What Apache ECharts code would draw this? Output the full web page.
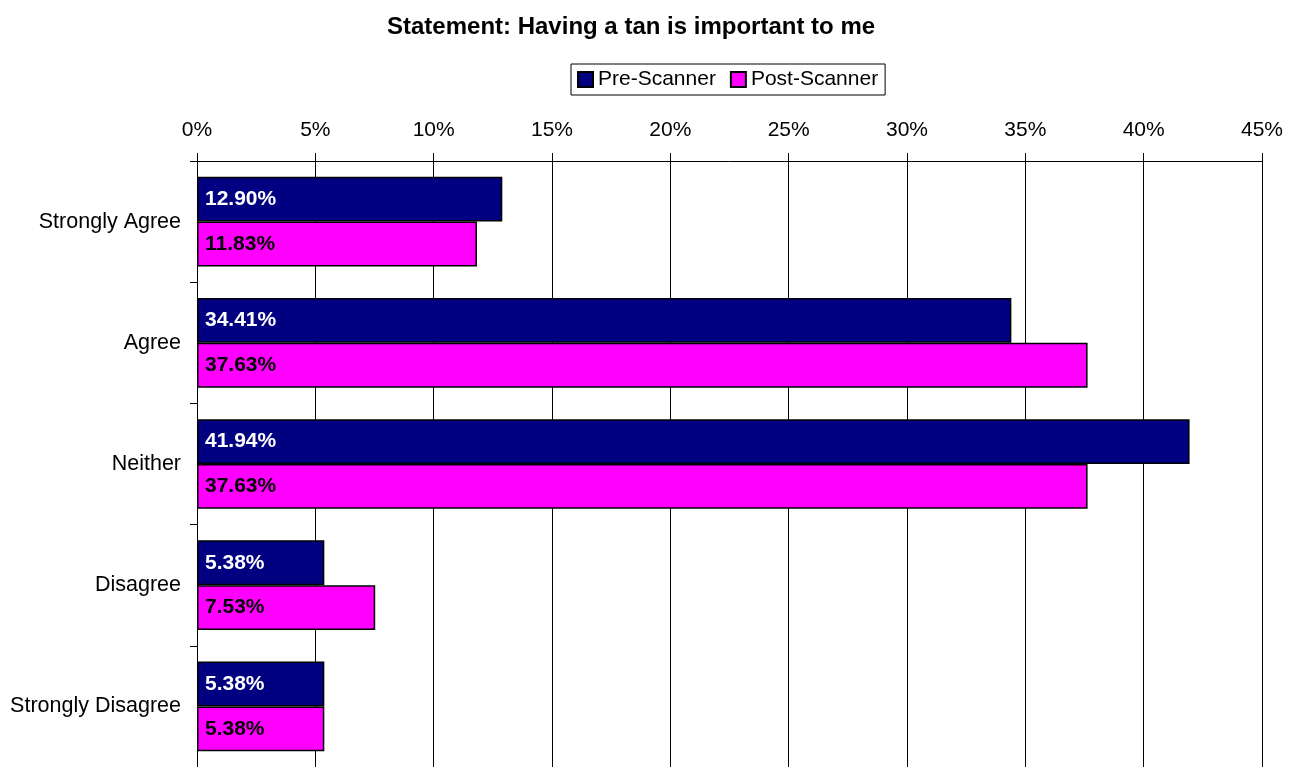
<!DOCTYPE html>
<html>
<head>
<meta charset="utf-8">
<script src="https://cdn.jsdelivr.net/npm/echarts@6/dist/echarts.min.js"></script>
<style>html,body{margin:0;padding:0;background:#fff}#c{width:1297px;height:767px}</style>
</head>
<body>
<div id="c"></div>
<script>
var categories = ['Strongly Agree', 'Agree', 'Neither', 'Disagree', 'Strongly Disagree'];
var preScanner = [12.90, 34.41, 41.94, 5.38, 5.38];
var postScanner = [11.83, 37.63, 37.63, 7.53, 5.38];
var seriesNames = ['Pre-Scanner', 'Post-Scanner'];
var titleText = 'Statement: Having a tan is important to me';

var chart = echarts.init(document.getElementById('c'), null, {renderer: 'canvas'});
var font = 'Arial, "Liberation Sans", sans-serif';
function lbl(color) {
  return {
    show: true, position: 'insideLeft', distance: 8,
    color: color, fontWeight: 'bold', fontSize: 21, fontFamily: font,
    formatter: function (p) { return p.value.toFixed(2) + '%'; }
  };
}
chart.setOption({
  animation: false,
  title: {
    text: titleText, left: 387, top: 15, padding: 0,
    textStyle: {fontSize: 24, fontWeight: 'bold', color: '#000', fontFamily: font}
  },
  legend: {
    data: seriesNames, top: 64, left: 571,
    borderColor: '#000', borderWidth: 1, padding: [5, 7, 5, 6],
    itemWidth: 15, itemHeight: 15, itemGap: 14,
    textStyle: {fontSize: 21, color: '#000', fontFamily: font},
    icon: 'rect'
  },
  grid: {left: 197, top: 161, width: 1065, height: 612, containLabel: false},
  xAxis: {
    type: 'value', position: 'top', min: 0, max: 45, interval: 5,
    axisLine: {show: true, lineStyle: {color: '#000', width: 1}},
    axisTick: {show: true, length: 8, lineStyle: {color: '#000'}},
    axisLabel: {formatter: '{value}%', fontSize: 21, color: '#000', fontFamily: font, margin: 20},
    splitLine: {show: true, lineStyle: {color: '#000', width: 1}}
  },
  yAxis: {
    type: 'category', data: categories, inverse: true,
    axisLine: {show: true, lineStyle: {color: '#000', width: 1}},
    axisTick: {show: true, length: 7, lineStyle: {color: '#000'}},
    axisLabel: {fontSize: 21.5, color: '#000', fontFamily: font, margin: 16}
  },
  series: [
    {
      name: seriesNames[0], type: 'bar', data: preScanner,
      barGap: '0%', barCategoryGap: '26%',
      itemStyle: {color: '#000080', borderColor: '#000', borderWidth: 1.5},
      label: lbl('#fff')
    },
    {
      name: seriesNames[1], type: 'bar', data: postScanner,
      itemStyle: {color: '#FF00FF', borderColor: '#000', borderWidth: 1.5},
      label: lbl('#000')
    }
  ]
});
</script>
</body>
</html>
